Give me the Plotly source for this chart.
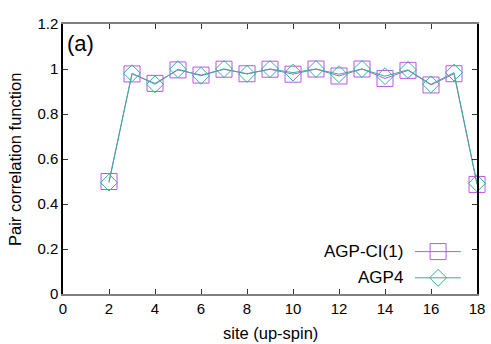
import plotly.graph_objects as go

# pair correlation vs site
site = [2, 3, 4, 5, 6, 7, 8, 9, 10, 11, 12, 13, 14, 15, 16, 17, 18]
agp_ci1 = [0.50, 0.978, 0.936, 0.996, 0.973, 0.999, 0.979, 0.999, 0.977,
           1.0, 0.969, 1.0, 0.958, 0.994, 0.929, 0.979, 0.487]
agp4 = [0.495, 0.981, 0.932, 0.999, 0.970, 1.0, 0.978, 1.0, 0.984,
        1.0, 0.977, 1.0, 0.968, 0.996, 0.932, 0.984, 0.492]

x_ticks = [0, 2, 4, 6, 8, 10, 12, 14, 16, 18]
y_ticks = [0, 0.2, 0.4, 0.6, 0.8, 1, 1.2]

purple = "#bb55e6"
teal = "#2db592"
font = "Liberation Sans, Arial, sans-serif"

fig = go.Figure()
fig.add_trace(go.Scatter(
    x=site, y=agp_ci1, mode="lines+markers", name="AGP-CI(1)", cliponaxis=False,
    line=dict(color=purple, width=1),
    marker=dict(symbol="square-open", size=16, color=purple, line=dict(width=1)),
))
fig.add_trace(go.Scatter(
    x=site, y=agp4, mode="lines+markers", name="AGP4", cliponaxis=False,
    line=dict(color=teal, width=1),
    marker=dict(symbol="diamond-open", size=13, color=teal, line=dict(width=1)),
))

# legend drawn by hand (key on the right of the text, like gnuplot)
legend_rows = [("AGP-CI(1)", purple, "square-open", 16, 0.157),
               ("AGP4", teal, "diamond-open", 13, 0.060)]
for name, col, sym, sz, yy in legend_rows:
    fig.add_trace(go.Scatter(
        x=[0.850, 0.961], y=[yy, yy], xaxis="x2", yaxis="y2",
        mode="lines", line=dict(color=col, width=1), showlegend=False, hoverinfo="skip",
    ))
    fig.add_trace(go.Scatter(
        x=[0.906], y=[yy], xaxis="x2", yaxis="y2", mode="markers",
        marker=dict(symbol=sym, size=sz, color=col, line=dict(width=1)),
        showlegend=False, hoverinfo="skip",
    ))
    fig.add_annotation(x=0.826, y=yy, xref="paper", yref="paper", text=name,
                       showarrow=False, xanchor="right", yanchor="middle",
                       font=dict(size=17, color="black", family=font))

fig.add_annotation(x=0.004, y=0.926, xref="paper", yref="paper", text="(a)",
                   showarrow=False, xanchor="left", yanchor="middle",
                   font=dict(size=22, color="black", family=font))

# axis titles as annotations so the plot area stays put
fig.add_annotation(x=0.5, y=-0.144, xref="paper", yref="paper", text="site (up-spin)",
                   showarrow=False, xanchor="center", yanchor="middle",
                   font=dict(size=16.5, color="black", family=font))
fig.add_annotation(x=-0.116, y=0.5, xref="paper", yref="paper",
                   text="Pair correlation function", textangle=-90,
                   showarrow=False, xanchor="center", yanchor="middle",
                   font=dict(size=16.5, color="black", family=font))

fig.update_layout(
    width=491, height=344,
    margin=dict(l=63, r=14, t=24, b=50),
    plot_bgcolor="white", paper_bgcolor="white",
    showlegend=False,
    font=dict(family=font, size=15, color="black"),
    xaxis=dict(
        range=[0, 18], tickvals=x_ticks, ticks="inside", ticklen=5,
        tickcolor="#333", showline=True, linecolor="#808080", linewidth=2,
        mirror="ticks", showgrid=False, zeroline=False, automargin=False,
    ),
    yaxis=dict(
        range=[0, 1.2], tickvals=y_ticks, ticks="inside", ticklen=5,
        tickcolor="#333", showline=True, linecolor="black", linewidth=1.5,
        mirror="ticks", showgrid=False, zeroline=False, automargin=False,
    ),
    xaxis2=dict(range=[0, 1], overlaying="x", visible=False),
    yaxis2=dict(range=[0, 1], overlaying="y", visible=False),
)

fig.write_html("out.html", config={"displayModeBar": False},
               post_script="document.body.style.margin='0';")
